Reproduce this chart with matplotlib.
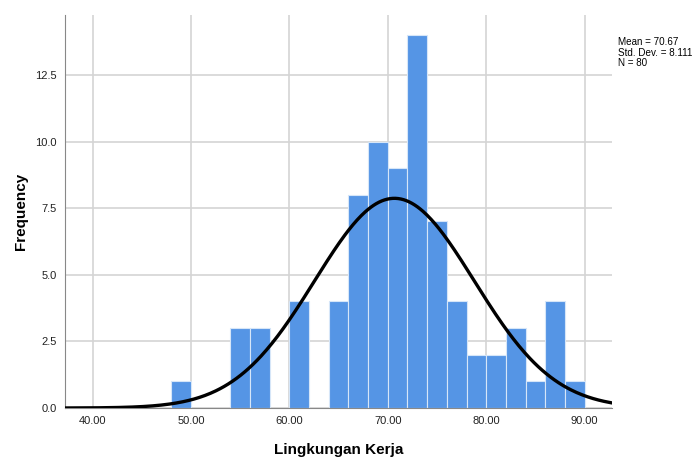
import numpy as np
import matplotlib.pyplot as plt

plt.rcParams['font.family'] = ['Liberation Sans', 'DejaVu Sans']

# histogram bins (width 2) and counts
bin_left = [48, 54, 56, 60, 64, 66, 68, 70, 72, 74, 76, 78, 80, 82, 84, 86, 88]
counts = [1, 3, 3, 4, 4, 8, 10, 9, 14, 7, 4, 2, 2, 3, 1, 4, 1]
bin_width = 2
mean = 70.67
std = 8.111
n = 80
x_ticks = [40, 50, 60, 70, 80, 90]
y_ticks = [0, 2.5, 5.0, 7.5, 10.0, 12.5]

fig = plt.figure(figsize=(6.97, 4.57), dpi=100)
ax = fig.add_axes([0.0933, 0.1072, 0.785, 0.86])

ax.bar(bin_left, counts, width=bin_width, align='edge', color='#5595e5',
       edgecolor='#d6e6f8', linewidth=0.8, zorder=2)

xs = np.linspace(37.2, 92.8, 400)
pdf = n * bin_width * np.exp(-0.5 * ((xs - mean) / std) ** 2) / (std * np.sqrt(2 * np.pi))
ax.plot(xs, pdf, color='black', linewidth=2.4, zorder=3)

ax.set_xlim(37.2, 92.8)
ax.set_ylim(0, 14.75)
ax.set_xticks(x_ticks)
ax.set_xticklabels(['%.2f' % v for v in x_ticks])
ax.set_yticks(y_ticks)
ax.set_yticklabels(['%.1f' % v for v in y_ticks])
ax.tick_params(length=0, labelsize=8, colors='#222222', pad=6)
ax.grid(True, color='#d4d4d4', linewidth=1.2, zorder=0)
ax.set_axisbelow(True)

for s in ['top', 'right']:
    ax.spines[s].set_visible(False)
ax.spines['left'].set_color('#888888')
ax.spines['bottom'].set_color('#888888')

ax.set_xlabel('Lingkungan Kerja', fontsize=11, fontweight='bold', labelpad=12)
ax.set_ylabel('Frequency', fontsize=11, fontweight='bold', labelpad=5)

fig.text(0.887, 0.918, 'Mean = 70.67\nStd. Dev. = 8.111\nN = 80',
         fontsize=7.1, va='top', ha='left', linespacing=1.05)

fig.savefig('out.png', dpi=100)
